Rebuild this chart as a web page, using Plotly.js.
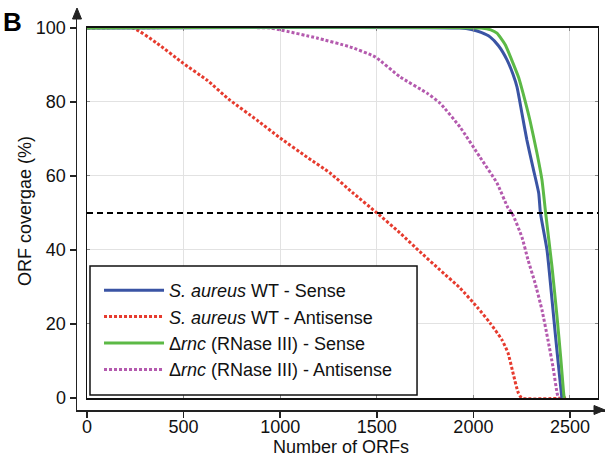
<!DOCTYPE html>
<html>
<head>
<meta charset="utf-8">
<script src="https://cdn.plot.ly/plotly-3.0.1.min.js"></script>
<style>html,body{margin:0;padding:0;background:#fff;}#chart{width:606px;height:459px;}</style>
</head>
<body>
<div id="chart"></div>
<script>
// ---- data ----
var seriesNames = [
  '<i>S. aureus</i> WT - Sense',
  '<i>S. aureus</i> WT - Antisense',
  '\u0394<i>rnc</i> (RNase III) - Sense',
  '\u0394<i>rnc</i> (RNase III) - Antisense'
];
var wtSenseX = [0, 1930, 1990, 2040, 2086, 2130, 2174, 2205, 2226, 2251, 2277, 2308, 2338, 2347, 2381, 2407, 2427, 2448, 2458];
var wtSenseY = [100, 100, 99.6, 98.8, 97.6, 95.2, 91.4, 87.5, 84, 77, 69.7, 62.4, 55.4, 50, 40, 26.5, 15.7, 4.9, 0];
var wtAntiX = [0, 238, 362, 497, 621, 740, 880, 999, 1139, 1258, 1377, 1501, 1620, 1724, 1827, 1931, 2019, 2086, 2148, 2179, 2205, 2231, 2250, 2480];
var wtAntiY = [100, 100, 95.9, 90.5, 85.9, 80.5, 75.1, 70.3, 65.1, 60.8, 55.4, 50, 44.6, 39.5, 34.6, 29.7, 24.6, 20.3, 15.7, 12.2, 6.8, 1.6, 0, 0];
var rncSenseX = [0, 2040, 2090, 2122, 2165, 2205, 2235, 2257, 2293, 2329, 2355, 2374, 2407, 2433, 2453, 2466, 2470];
var rncSenseY = [100, 100, 99.5, 98.6, 95.5, 90.5, 86.5, 82.4, 75, 66.2, 58.9, 50, 35.4, 21.9, 10.3, 2, 0];
var rncAntiX = [0, 947, 999, 1190, 1361, 1491, 1620, 1760, 1827, 1931, 2034, 2122, 2179, 2200, 2251, 2283, 2319, 2355, 2386, 2412, 2433, 2440];
var rncAntiY = [100, 100, 99.5, 97.3, 94.9, 92.2, 86.8, 82.4, 79.7, 73.2, 65.1, 58.1, 51.4, 50, 43.5, 37.3, 31.1, 23.8, 15.7, 8.4, 1.4, 0];
var xTicks = [0, 500, 1000, 1500, 2000, 2500];
var yTicks = [0, 20, 40, 60, 80, 100];
var threshold = 50;

var FONT = 'Liberation Sans, Arial, sans-serif';

function mk(name, x, y, color, dash, rank) {
  return {
    type: 'scatter', mode: 'lines', name: name, x: x, y: y,
    xaxis: 'x2', yaxis: 'y2', legendrank: rank, legendgroup: 'g' + rank,
    line: {color: color, width: 3, dash: dash || 'solid', shape: 'spline', smoothing: 0.5},
    hoverinfo: 'x+y'
  };
}

var data = [
  {type: 'scatter', x: [null], y: [null], xaxis: 'x', yaxis: 'y', showlegend: false, hoverinfo: 'skip'},
  mk(seriesNames[1], wtAntiX, wtAntiY, '#e63b2e', '3px,2px', 2),
  mk(seriesNames[3], rncAntiX, rncAntiY, '#b45aae', '3px,2px', 4),
  mk(seriesNames[0], wtSenseX, wtSenseY, '#3a54a4', null, 1),
  mk(seriesNames[2], rncSenseX, rncSenseY, '#5cb946', null, 3)
];

var outerAxis = {
  showgrid: false, zeroline: false, showline: true, linecolor: '#222', linewidth: 1.5,
  ticks: 'outside', ticklen: 6, tickwidth: 1.5, tickcolor: '#222',
  tickfont: {family: FONT, size: 18, color: '#111'}
};

var layout = {
  width: 606, height: 459,
  margin: {l: 77, r: 1, t: 12, b: 49, pad: 0},
  paper_bgcolor: '#fff', plot_bgcolor: '#fff',
  font: {family: FONT, size: 18, color: '#111'},
  showlegend: true,
  xaxis: Object.assign({}, outerAxis, {
    domain: [0, 1], range: [-51.76, 2681.2], tickvals: xTicks, anchor: 'y',
    ticklabelstandoff: -6,
    title: {text: 'Number of ORFs', standoff: 2, font: {family: FONT, size: 18, color: '#111'}}
  }),
  yaxis: Object.assign({}, outerAxis, {
    domain: [0, 1], range: [-3.243, 104.32], tickvals: yTicks, anchor: 'x',
    title: {text: 'ORF covergae (%)', font: {family: FONT, size: 18, color: '#111'}}
  }),
  xaxis2: {
    domain: [0.01894, 0.98674], range: [0, 2645], anchor: 'y2', tickvals: xTicks,
    showgrid: true, gridcolor: '#e2e2e2', gridwidth: 1, zeroline: false,
    showticklabels: false, ticks: 'inside', ticklen: 3, tickcolor: '#888',
    showline: true, mirror: 'ticks', linecolor: '#111', linewidth: 1.5
  },
  yaxis2: {
    domain: [0.03015, 0.9598], range: [0, 100], anchor: 'x2', tickvals: yTicks,
    showgrid: true, gridcolor: '#e2e2e2', gridwidth: 1, zeroline: false,
    showticklabels: false, ticks: 'inside', ticklen: 3, tickcolor: '#888',
    showline: true, mirror: 'ticks', linecolor: '#111', linewidth: 1.5
  },
  legend: {
    x: 0.0417, xanchor: 'left', y: 0.3467, yanchor: 'top',
    bgcolor: 'rgba(0,0,0,0)', bordercolor: '#111', borderwidth: 0,
    font: {family: FONT, size: 18, color: '#111'},
    tracegroupgap: 0, itemwidth: 60, traceorder: 'grouped'
  },
  shapes: [
    {type: 'line', xref: 'x2 domain', x0: 0, x1: 1, yref: 'y2', y0: threshold, y1: threshold,
     line: {color: '#000', width: 2, dash: '6px,4px'}},
    // legend frame
    {type: 'rect', xref: 'paper', yref: 'paper', x0: 0.0246, x1: 0.644, y0: 0.0377, y1: 0.3618,
     fillcolor: '#fff', line: {color: '#111', width: 1.5}, layer: 'above'},
    // axis arrowheads
    {type: 'path', xref: 'paper', yref: 'paper',
     path: 'M -0.00852,0.98241 L 0,1.01005 L 0.00852,0.98241 Z',
     fillcolor: '#222', line: {color: '#222', width: 1}},
    {type: 'path', xref: 'paper', yref: 'paper',
     path: 'M 0.97917,-0.0113 L 1.0,0 L 0.97917,0.0113 Z',
     fillcolor: '#222', line: {color: '#222', width: 1}}
  ],
  annotations: [
    {xref: 'paper', yref: 'paper', x: -0.122, y: 0.975, xanchor: 'center', yanchor: 'middle',
     text: '<b>B</b>', showarrow: false, font: {family: FONT, size: 26, color: '#000'}}
  ]
};

Plotly.newPlot('chart', data, layout, {displayModeBar: false, staticPlot: true});
</script>
</body>
</html>
